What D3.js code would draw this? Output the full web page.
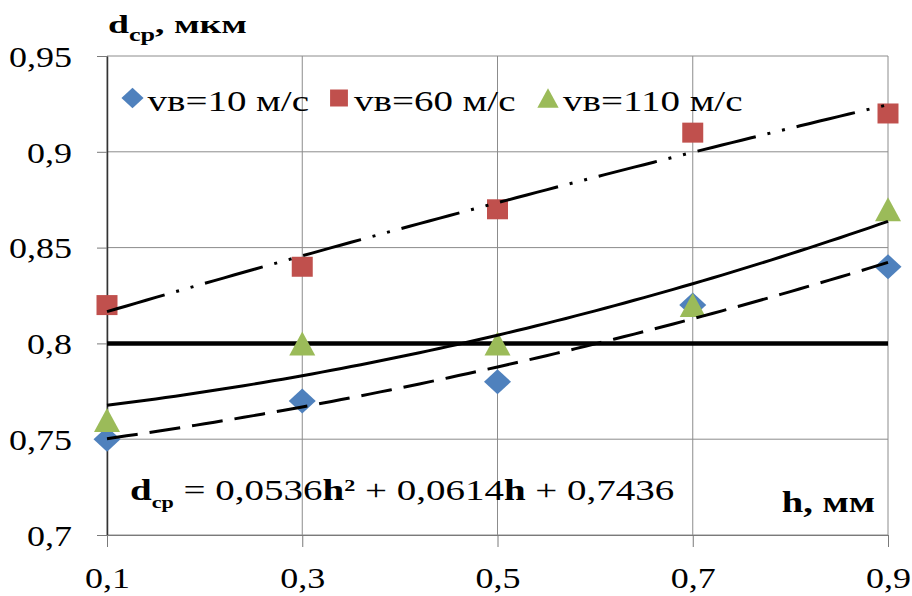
<!DOCTYPE html>
<html>
<head>
<meta charset="utf-8">
<script src="https://cdn.jsdelivr.net/npm/d3@7"></script>
<style>
  body { margin: 0; background: #fff; }
</style>
</head>
<body>
<div id="vis"></div>
<script>
const margin = { top: 56, right: 24, bottom: 61, left: 107 };
const width = 912 - margin.left - margin.right;
const height = 596 - margin.top - margin.bottom;
const serif = "'Liberation Serif'";

// data
const hValues = [0.1, 0.3, 0.5, 0.7, 0.9];
const v10 = [0.75, 0.77, 0.78, 0.82, 0.84];
const v60 = [0.82, 0.84, 0.87, 0.91, 0.92];
const v110 = [0.76, 0.80, 0.80, 0.82, 0.87];
const seriesNames = ['vв=10 м/с', 'vв=60 м/с', 'vв=110 м/с'];
const xTicks = [0.1, 0.3, 0.5, 0.7, 0.9];
const yTicks = [0.7, 0.75, 0.8, 0.85, 0.9, 0.95];
const refLevel = 0.8;

const colors = ['#4F81BD', '#C0504D', '#9BBB59'];
const dashes = ['31,12', '60,12,3,12,3,12', null];

const fmt = v => String(v).replace('.', ',');

const svg = d3.select('#vis')
    .append('svg')
    .attr('width', 912)
    .attr('height', 596)
    .append('g')
    .attr('transform', `translate(${margin.left},${margin.top})`);

const xScale = d3.scaleLinear().domain([0.1, 0.9]).range([0, width]);
const yScale = d3.scaleLinear().domain([0.7, 0.95]).range([height, 0]);

// quadratic least squares, like the excel trendline
function polyFit(xs, ys){
    let s = [0,0,0,0,0], t = [0,0,0];
    xs.forEach((x, i) => {
        for (let k = 0; k < 5; k++) s[k] += Math.pow(x, k);
        for (let k = 0; k < 3; k++) t[k] += ys[i] * Math.pow(x, k);
    });
    let m = [[s[0], s[1], s[2], t[0]], [s[1], s[2], s[3], t[1]], [s[2], s[3], s[4], t[2]]];
    for (let i = 0; i < 3; i++){
        for (let j = i + 1; j < 3; j++){
            let f = m[j][i] / m[i][i];
            for (let k = i; k < 4; k++) m[j][k] -= f * m[i][k];
        }
    }
    let c = [0,0,0];
    for (let i = 2; i >= 0; i--){
        let sum = m[i][3];
        for (let k = i + 1; k < 3; k++) sum -= m[i][k] * c[k];
        c[i] = sum / m[i][i];
    }
    return x => c[0] + c[1] * x + c[2] * x * x;
}

// grid
svg.append('g').selectAll('line').data(yTicks).join('line')
    .attr('x1', 0).attr('x2', width)
    .attr('y1', d => yScale(d)).attr('y2', d => yScale(d))
    .attr('stroke', '#8c8c8c').attr('stroke-width', 1);
svg.append('g').selectAll('line').data(xTicks).join('line')
    .attr('x1', d => xScale(d)).attr('x2', d => xScale(d))
    .attr('y1', 0).attr('y2', height)
    .attr('stroke', '#8c8c8c').attr('stroke-width', 1);

// axes
const yAxis = svg.append('g')
    .call(d3.axisLeft(yScale).tickValues(yTicks).tickSize(10).tickSizeOuter(0).tickFormat(fmt));
const xAxis = svg.append('g')
    .attr('transform', `translate(0,${height})`)
    .call(d3.axisBottom(xScale).tickValues(xTicks).tickSize(12).tickSizeOuter(0).tickFormat(fmt));

[xAxis, yAxis].forEach(a => {
    a.attr('font-family', null).attr('font-size', null);
    a.select('.domain').attr('stroke', '#7a7a7a').attr('stroke-width', 1);
    a.selectAll('.tick line').attr('stroke', '#7a7a7a');
    a.selectAll('text').style('font-size', '30px').style('font-family', serif).attr('fill', '#000');
});
yAxis.select('.domain').attr('stroke', '#333').attr('stroke-width', 1.5);
yAxis.selectAll('text')
    .attr('x', -35 / 1.2).attr('dy', '0.34em')
    .attr('transform', 'scale(1.2,1)');
xAxis.selectAll('text')
    .attr('y', 53).attr('dy', 0)
    .attr('transform', 'scale(1.2,1)');

// reference line
svg.append('line')
    .attr('x1', xScale(0.1)).attr('x2', xScale(0.9))
    .attr('y1', yScale(refLevel)).attr('y2', yScale(refLevel))
    .attr('stroke', '#000').attr('stroke-width', 4.5);

// markers
const markers = [
    (w) => `M0,${-12.5*w}L${13.5*w},0L0,${12.5*w}L${-13.5*w},0Z`,
    (w) => `M${-10.5*w},${-10*w}H${10.5*w}V${10*w}H${-10.5*w}Z`,
    (w) => `M0,${-12*w}L${13*w},${12*w}H${-13*w}Z`
];
const allSeries = [v10, v60, v110];

allSeries.forEach((vals, i) => {
    svg.append('g').selectAll('path')
        .data(vals.map((v, j) => ({ h: hValues[j], v: v })))
        .join('path')
        .attr('d', markers[i](1))
        .attr('transform', d => `translate(${xScale(d.h)},${yScale(d.v)})`)
        .attr('fill', colors[i]);
});

// trend lines
const line = d3.line().x(d => xScale(d[0])).y(d => yScale(d[1]));
allSeries.forEach((vals, i) => {
    const f = polyFit(hValues, vals);
    const pts = d3.range(0, 81).map(k => { const h = 0.1 + k * 0.01; return [h, f(h)]; });
    svg.append('path')
        .datum(pts)
        .attr('d', line)
        .attr('fill', 'none')
        .attr('stroke', '#000')
        .attr('stroke-width', 3)
        .attr('stroke-dasharray', dashes[i]);
});

// legend
const legendPos = [25.5, 232, 441];
const legend = svg.append('g').attr('transform', `translate(0,${98 - margin.top})`);
seriesNames.forEach((name, i) => {
    legend.append('path')
        .attr('d', markers[i](i === 1 ? 0.85 : 0.82))
        .attr('transform', `translate(${legendPos[i]},0)`)
        .attr('fill', colors[i]);
    legend.append('text')
        .attr('transform', `translate(${legendPos[i] + 15},${13}) scale(1.3,1)`)
        .style('font-family', serif)
        .style('font-size', '30px')
        .text(name);
});

// texts
const title = svg.append('text')
    .attr('transform', `translate(1,${33 - margin.top}) scale(1.45,1)`)
    .style('font-family', serif)
    .style('font-size', '26px').style('font-weight', 'bold');
title.append('tspan').text('d');
title.append('tspan').attr('dy', 8).style('font-size', '18px').text('cp');
title.append('tspan').attr('dy', -8).text(', мкм');

const eq = svg.append('text')
    .attr('transform', `translate(${130 - margin.left},${500 - margin.top}) scale(1.3,1)`)
    .style('font-family', serif)
    .style('font-size', '30px');
eq.append('tspan').style('font-weight', 'bold').text('d');
eq.append('tspan').attr('dy', 8).style('font-weight', 'bold').style('font-size', '17px').text('cp');
eq.append('tspan').attr('dy', -8).text(' = 0,0536');
eq.append('tspan').style('font-weight', 'bold').text('h');
eq.append('tspan').attr('dy', -9).style('font-weight', 'bold').style('font-size', '17px').text('2');
eq.append('tspan').attr('dy', 9).text(' + 0,0614');
eq.append('tspan').style('font-weight', 'bold').text('h');
eq.append('tspan').text(' + 0,7436');

svg.append('text')
    .attr('transform', `translate(${875 - margin.left},${512 - margin.top}) scale(1.33,1)`)
    .attr('text-anchor', 'end')
    .style('font-family', serif)
    .style('font-size', '29px').style('font-weight', 'bold')
    .text('h, мм');
</script>
</body>
</html>
